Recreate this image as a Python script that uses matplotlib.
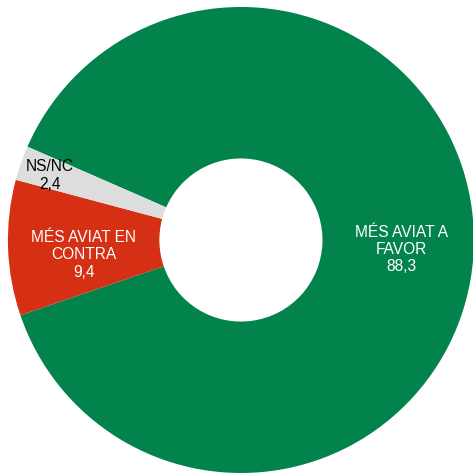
import numpy as np
import matplotlib

matplotlib.use("Agg")
import matplotlib.pyplot as plt

labels = ["MÉS AVIAT A\nFAVOR", "MÉS AVIAT EN\nCONTRA", "NS/NC"]
values = [88.3, 9.4, 2.4]
value_text = ["88,3", "9,4", "2,4"]
colors = ["#03834c", "#d52f14", "#dddddd"]
text_colors = ["white", "white", "black"]
label_radius = [0.69, 0.675, 0.87]
label_dy = [-0.012, -0.04, -0.01]

plt.rcParams["font.family"] = ["Liberation Sans", "DejaVu Sans"]

fig = plt.figure(figsize=(4.73, 4.73), dpi=100)
ax = fig.add_axes([0, 0, 1, 1])

wedges, _ = ax.pie(
    values,
    colors=colors,
    startangle=156.4,
    counterclock=False,
    radius=1.0,
    wedgeprops=dict(width=0.65, linewidth=0),
)

for w, lab, val, tc, r, dy in zip(wedges, labels, value_text, text_colors, label_radius, label_dy):
    mid = np.deg2rad((w.theta1 + w.theta2) / 2)
    ax.text(
        r * np.cos(mid),
        r * np.sin(mid) + dy,
        f"{lab}\n{val}",
        ha="center",
        va="center",
        color=tc,
        fontsize=11.2,
        linespacing=1.2,
    )

ax.set_xlim(-1.034, 0.996)
ax.set_ylim(-1.0, 1.030)
ax.set_aspect("equal")
ax.axis("off")

fig.savefig("out.png", dpi=100)
